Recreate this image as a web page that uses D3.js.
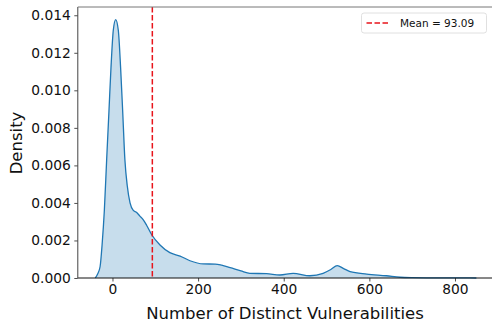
<!DOCTYPE html>
<html>
<head>
<meta charset="utf-8">
<script src="https://cdn.jsdelivr.net/npm/d3@7"></script>
<style>
  html, body { margin: 0; padding: 0; background: #fff; overflow: hidden; }
  svg { display: block; font-family: "DejaVu Sans", sans-serif; }
</style>
</head>
<body>
<div id="chart"></div>
<script>
// kde curve
var kdeX = [-40, -35, -29, -24, -19, -13.6, -8.2, -3.5, 1.9, 7.5, 13.6, 19, 23.8, 29, 34.6, 41, 48.6, 56, 64, 72, 80, 92, 111, 134, 158, 181, 212, 240, 255, 275, 300, 321, 360, 391, 422, 461, 492, 510, 525, 540, 555, 594, 640, 672, 700, 750, 800, 850];
var kdeY = [0, 0.0002, 0.0006, 0.00185, 0.0036, 0.0063, 0.0089, 0.0112, 0.0132, 0.01377, 0.0132, 0.0112, 0.0089, 0.0063, 0.0049, 0.0040, 0.0036, 0.0035, 0.0033, 0.0031, 0.0028, 0.00229, 0.00176, 0.00135, 0.00117, 0.00092, 0.00075, 0.00074, 0.00068, 0.00055, 0.00038, 0.00025, 0.00023, 0.00016, 0.00025, 0.00012, 0.00025, 0.00045, 0.00066, 0.0005, 0.00034, 0.00021, 0.00012, 0.00004, 0.00002, 0.00001, 0.00001, 0];
var meanValue = 93.09;
var xTicks = [0, 200, 400, 600, 800];
var yTicks = [0, 0.002, 0.004, 0.006, 0.008, 0.010, 0.012, 0.014];

var width = 492, height = 324;
var top_ = 7, bottom = 278;

var x = d3.scaleLinear().domain([-81, 900]).range([77.8, 497.8]);
var y = d3.scaleLinear().domain([0, 0.01444]).range([bottom, top_]);

var svg = d3.select("#chart").append("svg")
    .attr("width", width)
    .attr("height", height);

var pts = kdeX.map(function(d, i) { return [d, kdeY[i]]; });

svg.append("path")
    .datum(pts)
    .attr("fill", "#1f77b4")
    .attr("fill-opacity", 0.25)
    .attr("d", d3.area()
        .curve(d3.curveMonotoneX)
        .x(function(d) { return x(d[0]); })
        .y0(y(0))
        .y1(function(d) { return y(d[1]); }));

svg.append("path")
    .datum(pts)
    .attr("fill", "none")
    .attr("stroke", "#1f77b4")
    .attr("stroke-width", 1.3)
    .attr("d", d3.line()
        .curve(d3.curveMonotoneX)
        .x(function(d) { return x(d[0]); })
        .y(function(d) { return y(d[1]); }));

// mean line
svg.append("line")
    .attr("x1", x(meanValue)).attr("x2", x(meanValue))
    .attr("y1", top_).attr("y2", bottom)
    .attr("stroke", "#e8141b")
    .attr("stroke-width", 1.5)
    .attr("stroke-dasharray", "5.5,2.5");

// axes
var xAxis = svg.append("g")
    .attr("transform", "translate(0," + bottom + ")")
    .call(d3.axisBottom(x).tickValues(xTicks).tickSize(3.5).tickPadding(3).tickFormat(d3.format("d")));
var yAxis = svg.append("g")
    .attr("transform", "translate(" + x.range()[0] + ",0)")
    .call(d3.axisLeft(y).tickValues(yTicks).tickSize(3.5).tickPadding(3.5).tickFormat(d3.format(".3f")));

[xAxis, yAxis].forEach(function(g) {
    g.selectAll("text").attr("font-size", 13.8).attr("fill", "#111").attr("font-family", "DejaVu Sans");
    g.selectAll(".tick line").attr("stroke", "#222").attr("stroke-width", 0.8);
    g.select(".domain").remove();
});

// spines
svg.append("line").attr("x1", x.range()[0]).attr("x2", width).attr("y1", bottom).attr("y2", bottom)
    .attr("stroke", "#111").attr("stroke-width", 1);
svg.append("line").attr("x1", x.range()[0]).attr("x2", x.range()[0]).attr("y1", top_).attr("y2", bottom)
    .attr("stroke", "#444").attr("stroke-width", 1);
svg.append("line").attr("x1", x.range()[0]).attr("x2", width).attr("y1", top_).attr("y2", top_)
    .attr("stroke", "#777").attr("stroke-width", 1);

// axis labels
svg.append("text")
    .attr("x", 285).attr("y", 318.5)
    .attr("text-anchor", "middle")
    .attr("font-size", 16.5)
    .attr("fill", "#111")
    .text("Number of Distinct Vulnerabilities");
svg.append("text")
    .attr("transform", "translate(22,143) rotate(-90)")
    .attr("text-anchor", "middle")
    .attr("font-size", 16.5)
    .attr("fill", "#111")
    .text("Density");

// legend
var lg = svg.append("g").attr("transform", "translate(361.5,13)");
lg.append("rect")
    .attr("width", 125).attr("height", 20).attr("rx", 2.5)
    .attr("fill", "#fff").attr("fill-opacity", 0.8)
    .attr("stroke", "#d8d8d8").attr("stroke-width", 0.8);
lg.append("line")
    .attr("x1", 5).attr("x2", 29).attr("y1", 10).attr("y2", 10)
    .attr("stroke", "#e8141b").attr("stroke-width", 1.5)
    .attr("stroke-dasharray", "5.5,2.5");
lg.append("text")
    .attr("x", 38.5).attr("y", 14)
    .attr("font-size", 10.5)
    .attr("fill", "#111")
    .text("Mean = " + meanValue.toFixed(2));
</script>
</body>
</html>
